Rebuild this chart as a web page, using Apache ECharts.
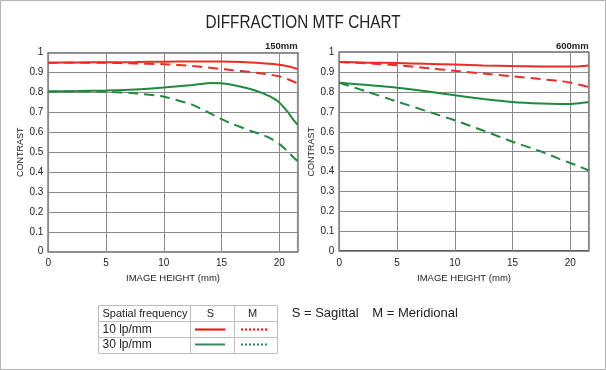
<!DOCTYPE html>
<html><head><meta charset="utf-8">
<script src="https://cdn.jsdelivr.net/npm/echarts@6/dist/echarts.min.js"></script>
<style>html,body{margin:0;padding:0;background:#fff}#c{width:606px;height:370px}</style>
</head><body><div id="c"></div>
<script>
// ---- data ----
const chartTitle = 'DIFFRACTION MTF CHART';
const focalLeft = '150mm';
const focalRight = '600mm';
const xTicks = [0, 5, 10, 15, 20];
const yTicks = [0, 0.1, 0.2, 0.3, 0.4, 0.5, 0.6, 0.7, 0.8, 0.9, 1];

const heightsLeft = [0, 2.5, 5, 7.5, 10, 12.5, 14.2, 15, 16, 17.5, 18.5, 19.2, 20, 20.7, 21.2, 21.6];
const s10Left = [0.950, 0.951, 0.952, 0.953, 0.955, 0.956, 0.956, 0.956, 0.955, 0.951, 0.947, 0.944, 0.939, 0.932, 0.925, 0.918];
const m10Left = [0.950, 0.950, 0.949, 0.946, 0.942, 0.933, 0.923, 0.918, 0.912, 0.903, 0.896, 0.890, 0.881, 0.868, 0.856, 0.846];
const s30Left = [0.805, 0.807, 0.810, 0.815, 0.825, 0.838, 0.848, 0.846, 0.838, 0.818, 0.798, 0.780, 0.750, 0.705, 0.665, 0.637];
const m30Left = [0.805, 0.806, 0.804, 0.796, 0.779, 0.738, 0.690, 0.666, 0.641, 0.608, 0.588, 0.571, 0.542, 0.506, 0.476, 0.455];

const heightsRight = [0, 2.5, 5, 7.5, 10, 12.5, 15, 17.5, 19, 20, 20.8, 21.6];
const s10Right = [0.951, 0.948, 0.946, 0.942, 0.938, 0.934, 0.931, 0.929, 0.928, 0.928, 0.930, 0.933];
const m10Right = [0.951, 0.944, 0.935, 0.921, 0.907, 0.893, 0.879, 0.865, 0.856, 0.848, 0.837, 0.825];
const s30Right = [0.847, 0.835, 0.822, 0.804, 0.784, 0.765, 0.750, 0.742, 0.740, 0.740, 0.744, 0.750];
const m30Right = [0.847, 0.800, 0.752, 0.705, 0.658, 0.605, 0.550, 0.500, 0.465, 0.443, 0.425, 0.405];

const legendHeader = ['Spatial frequency', 'S', 'M'];
const legendRows = ['10 lp/mm', '30 lp/mm'];
const noteS = 'S = Sagittal';
const noteM = 'M = Meridional';

// ---- styling ----
const RED = '#ee2a23', GREEN = '#1f8a3e';
const FONT = '"Liberation Sans", Arial, sans-serif';
const DASH = [10, 6];

function xAxis(gi) {
  return {
    type: 'value', gridIndex: gi, min: 0, max: 21.6, interval: 5,
    name: 'IMAGE HEIGHT (mm)', nameLocation: 'middle', nameGap: 21,
    nameTextStyle: { fontFamily: FONT, fontSize: 9.5, color: '#222' },
    axisLine: { show: false }, axisTick: { show: false },
    axisLabel: { fontFamily: FONT, fontSize: 10, color: '#222', margin: 7,
      formatter: v => (xTicks.indexOf(v) >= 0 ? String(v) : '') },
    splitLine: { show: true, lineStyle: { color: '#8a8a8a', width: 1 } }
  };
}
function yAxis(gi) {
  return {
    type: 'value', gridIndex: gi, min: 0, max: 1, interval: 0.1,
    name: 'CONTRAST', nameLocation: 'middle', nameGap: 20, nameRotate: 90,
    nameTextStyle: { fontFamily: FONT, fontSize: 9, color: '#222' },
    axisLine: { show: false }, axisTick: { show: false },
    axisLabel: { fontFamily: FONT, fontSize: 10, color: '#222', margin: 5,
      formatter: v => {
        const t = yTicks.find(k => Math.abs(k - v) < 1e-6);
        if (t === undefined) return '';
        return (t === 0 || t === 1) ? String(t) : t.toFixed(1);
      } },
    splitLine: { show: true, lineStyle: { color: '#8a8a8a', width: 1 } }
  };
}
function ser(gi, xs, ys, color, dashed) {
  return {
    type: 'line', xAxisIndex: gi, yAxisIndex: gi,
    data: xs.map((h, i) => [h, ys[i]]),
    showSymbol: false, smooth: 0.2, silent: true,
    lineStyle: { color: color, width: 2, type: dashed ? DASH : 'solid' },
    z: dashed ? 3 : 4
  };
}

const g = [];
g.push({ type: 'rect', shape: { x: 0.5, y: 0.5, width: 605, height: 369 },
  style: { fill: 'none', stroke: '#b4b4b4', lineWidth: 1 }, z: 0 });
g.push({ type: 'text', x: 303, y: 23, scaleX: 0.85, style: { text: chartTitle, fontFamily: FONT, fontSize: 18,
  fill: '#222', textAlign: 'center', textVerticalAlign: 'middle' } });
g.push({ type: 'text', x: 297.7, y: 46.5, style: { text: focalLeft, fontFamily: FONT, fontSize: 9.5, fontWeight: 'bold',
  fill: '#222', textAlign: 'right', textVerticalAlign: 'middle' } });
g.push({ type: 'text', x: 588.7, y: 46, style: { text: focalRight, fontFamily: FONT, fontSize: 9.5, fontWeight: 'bold',
  fill: '#222', textAlign: 'right', textVerticalAlign: 'middle' } });
// legend table
g.push({ type: 'rect', shape: { x: 98.5, y: 305.5, width: 179, height: 48 },
  style: { fill: '#fff', stroke: '#bdbdbd', lineWidth: 1 } });
[190.5, 234.5].forEach(x => g.push({ type: 'line', shape: { x1: x, y1: 305.5, x2: x, y2: 353.5 },
  style: { stroke: '#bdbdbd', lineWidth: 1 } }));
[321.5, 337.5].forEach(y => g.push({ type: 'line', shape: { x1: 98.5, y1: y, x2: 277.5, y2: y },
  style: { stroke: '#bdbdbd', lineWidth: 1 } }));
g.push({ type: 'text', x: 102.5, y: 313.5, style: { text: legendHeader[0], fontFamily: FONT, fontSize: 11,
  fill: '#222', textAlign: 'left', textVerticalAlign: 'middle' } });
g.push({ type: 'text', x: 210.5, y: 313.5, style: { text: legendHeader[1], fontFamily: FONT, fontSize: 11,
  fill: '#222', textAlign: 'center', textVerticalAlign: 'middle' } });
g.push({ type: 'text', x: 252.5, y: 313.5, style: { text: legendHeader[2], fontFamily: FONT, fontSize: 11,
  fill: '#222', textAlign: 'center', textVerticalAlign: 'middle' } });
const rowY = [329.5, 344.5];
const rowCol = ['#ff0000', '#2e8b57'];
legendRows.forEach((t, i) => {
  g.push({ type: 'text', x: 102.5, y: rowY[i], style: { text: t, fontFamily: FONT, fontSize: 12,
    fill: '#222', textAlign: 'left', textVerticalAlign: 'middle' } });
  g.push({ type: 'line', shape: { x1: 195, y1: rowY[i], x2: 225, y2: rowY[i] },
    style: { stroke: rowCol[i], lineWidth: 2 } });
  g.push({ type: 'line', shape: { x1: 241, y1: rowY[i], x2: 267, y2: rowY[i] },
    style: { stroke: rowCol[i], lineWidth: 2, lineDash: [2, 2] } });
});
g.push({ type: 'text', x: 291.7, y: 313, style: { text: noteS, fontFamily: FONT, fontSize: 13,
  fill: '#222', textAlign: 'left', textVerticalAlign: 'middle' } });
g.push({ type: 'text', x: 372.3, y: 313, style: { text: noteM, fontFamily: FONT, fontSize: 13,
  fill: '#222', textAlign: 'left', textVerticalAlign: 'middle' } });

const chart = echarts.init(document.getElementById('c'), null, { renderer: 'canvas' });
chart.setOption({
  animation: false,
  backgroundColor: '#fff',
  grid: [
    { left: 48.3, top: 52.7, width: 249.4, height: 199, show: true, borderColor: '#2a2a2a', borderWidth: 1.5, backgroundColor: 'transparent' },
    { left: 339.3, top: 52.3, width: 249.4, height: 198.7, show: true, borderColor: '#2a2a2a', borderWidth: 1.5, backgroundColor: 'transparent' }
  ],
  xAxis: [xAxis(0), xAxis(1)],
  yAxis: [yAxis(0), yAxis(1)],
  series: [
    ser(0, heightsLeft, s10Left, RED, false),
    ser(0, heightsLeft, m10Left, RED, true),
    ser(0, heightsLeft, s30Left, GREEN, false),
    ser(0, heightsLeft, m30Left, GREEN, true),
    ser(1, heightsRight, s10Right, RED, false),
    ser(1, heightsRight, m10Right, RED, true),
    ser(1, heightsRight, s30Right, GREEN, false),
    ser(1, heightsRight, m30Right, GREEN, true)
  ],
  graphic: g
});
</script>
</body></html>
